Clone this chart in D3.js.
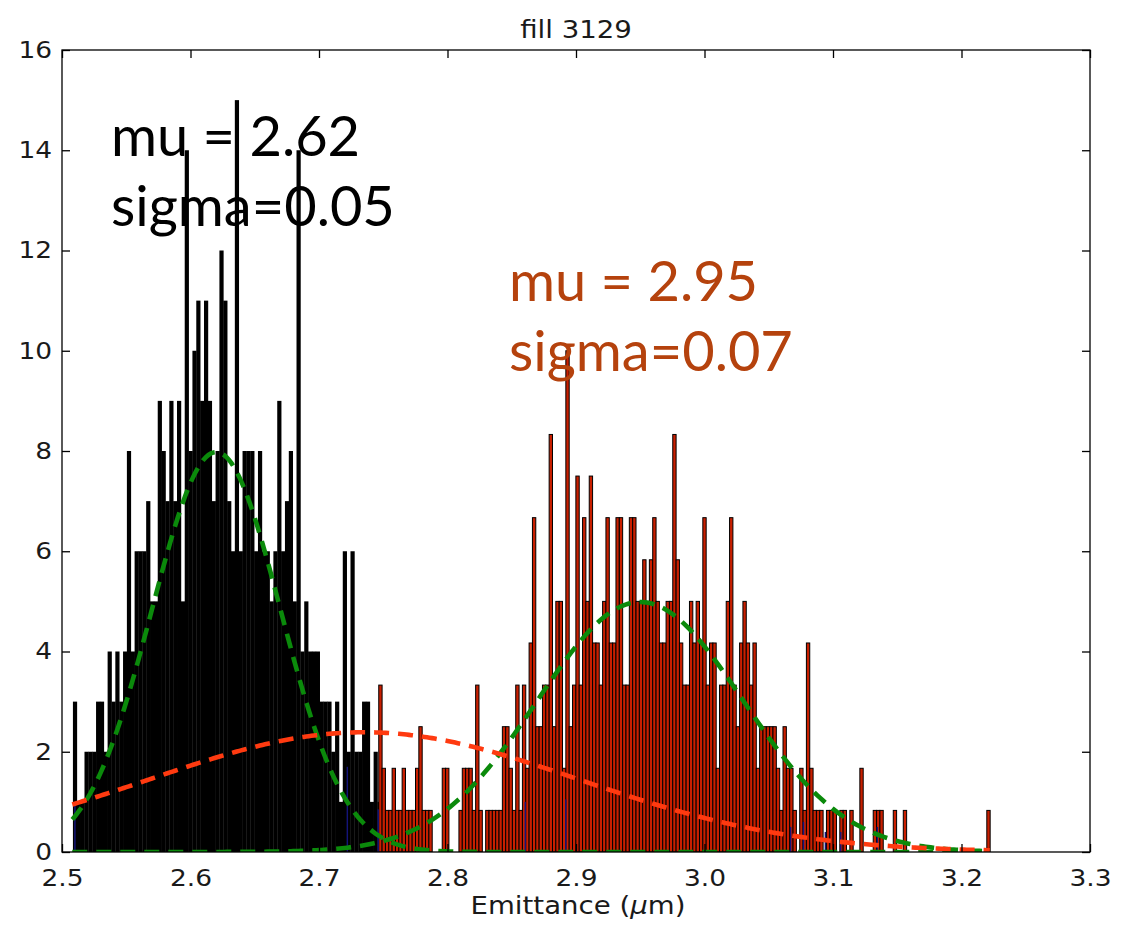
<!DOCTYPE html>
<html>
<head>
<meta charset="utf-8">
<script src="https://cdn.jsdelivr.net/npm/d3@7"></script>
<style>
  body { margin: 0; background: #fff; }
  svg { display: block; }
</style>
</head>
<body>
<svg id="chart" width="1148" height="926"></svg>
<script>
// ---- axis ticks ----
const xTickValues = [2.5, 2.6, 2.7, 2.8, 2.9, 3.0, 3.1, 3.2, 3.3];
const xTickLabels = ["2.5", "2.6", "2.7", "2.8", "2.9", "3.0", "3.1", "3.2", "3.3"];
const yTickValues = [0, 2, 4, 6, 8, 10, 12, 14, 16];

// ---- first emittance population (black histogram, normalised) ----
const blackStart = 2.5085;
const blackWidth = 0.003;
const blackValues = [
  3, 1, 1, 2, 2, 2, 3, 3, 2, 4,
  3, 4, 3, 4, 8, 4, 6, 6, 6, 7,
  5, 5, 9, 8, 7, 9, 7, 9, 5, 14,
  8, 10, 11, 9, 11, 9, 7, 8, 12, 11,
  7, 6, 15, 6, 8, 8, 8, 6, 8, 6,
  6, 5, 6, 9, 6, 7, 8, 5, 14, 4,
  5, 4, 4, 4, 3, 3, 3, 2, 3, 1,
  6, 2, 6, 2, 2, 3, 3, 1, 2, 1
];

// ---- second emittance population (red histogram, normalised) ----
const redStart = 2.7465;
const redWidth = 0.0026;
const redValues = [
  3.33, 1.67, 0.83, 0.83, 1.67, 0.83, 0.83, 1.67, 0.83, 0.83,
  0.83, 1.67, 2.5, 0.83, 0.83, 0.83, 0, 0, 0, 1.67,
  1.67, 0, 0, 0, 0.83, 1.67, 1.67, 1.67, 0.83, 3.33,
  0.83, 0, 0.83, 0.83, 0.83, 0.83, 0.83, 2.5, 2.5, 1.67,
  0.83, 3.33, 0.83, 3.33, 1.67, 4.17, 6.67, 2.5, 2.5, 3.33,
  3.33, 8.33, 2.5, 5, 5, 1.67, 10, 2.5, 3.33, 7.5,
  3.33, 6.67, 5, 7.5, 4.17, 4.17, 3.33, 5, 6.67, 4.17,
  4.17, 6.67, 6.67, 3.33, 3.33, 6.67, 6.67, 5, 5, 5.83,
  5, 5.83, 6.67, 5, 4.17, 4.17, 5, 5, 8.33, 5.83,
  4.17, 3.33, 3.33, 5, 4.17, 5, 4.17, 6.67, 3.33, 4.17,
  4.17, 1.67, 3.33, 3.33, 5, 6.67, 3.33, 2.5, 4.17, 5,
  4.17, 3.33, 4.17, 1.67, 2.5, 2.5, 2.5, 2.5, 2.5, 1.67,
  0.83, 2.5, 1.67, 1.67, 0.83, 0, 1.67, 0.83, 4.17, 1.67,
  0.83, 0.83, 0.83, 0, 0.83, 0.83, 0.83, 0, 0.83, 0.83,
  0, 0.83, 0, 0, 1.67, 0, 0, 0, 0.83, 0.83,
  0.83, 0, 0, 0, 0.83, 0, 0, 0.83, 0, 0,
  0, 0, 0, 0, 0, 0, 0, 0, 0, 0,
  0, 0, 0, 0, 0, 0, 0, 0, 0, 0,
  0, 0, 0.83
];

// ---- combined sample (blue histogram, mostly hidden) ----
const blueBins = [2.5095, 2.7215, 2.7455, 2.8600, 2.8915, 3.0665, 3.0765, 3.0935, 3.1055, 3.1340];
const blueValues = [1.0, 1.7, 0.85, 1.0, 1.05, 0.5, 0.6, 0.4, 0.4, 0.5];
const blueWidth = 0.0011;

// ---- gaussian fits ----
const fitFirst = { mu: 2.62, sigma: 0.05 };
const fitSecond = { mu: 2.95, sigma: 0.08 };
const fitAll = { mu: 2.735, sigma: 0.167 };
const fitRange = [2.508, 3.222];

// ---- annotations ----
const titleText = "fill 3129";
const firstLabel = ["mu = 2.62", "sigma=0.05"];
const secondLabel = ["mu = 2.95", "sigma=0.07"];

// ---- layout ----
const svg = d3.select("#chart");
const plot = { left: 62, right: 1090, top: 50, bottom: 852 };
const textStretch = 1.15;

const x = d3.scaleLinear().domain([2.5, 3.3]).range([plot.left, plot.right]);
const y = d3.scaleLinear().domain([0, 16]).range([plot.bottom, plot.top]);

svg.append("defs").append("clipPath").attr("id", "plotClip")
  .append("rect")
  .attr("x", plot.left).attr("y", plot.top)
  .attr("width", plot.right - plot.left).attr("height", plot.bottom - plot.top);

const area = svg.append("g").attr("clip-path", "url(#plotClip)");

// black histogram
area.append("g")
  .selectAll("rect")
  .data(blackValues.map((v, i) => ({ x0: blackStart + i * blackWidth, x1: blackStart + (i + 1) * blackWidth, v })).filter(d => d.v > 0))
  .join("rect")
  .attr("x", d => x(d.x0))
  .attr("width", d => x(d.x1) - x(d.x0) + 0.35)
  .attr("y", d => y(d.v))
  .attr("height", d => y(0) - y(d.v))
  .attr("fill", "#000");

// red histogram
area.append("g")
  .selectAll("rect")
  .data(redValues.map((v, i) => ({ x0: redStart + i * redWidth, x1: redStart + (i + 1) * redWidth, v })).filter(d => d.v > 0))
  .join("rect")
  .attr("x", d => x(d.x0))
  .attr("width", d => x(d.x1) - x(d.x0))
  .attr("y", d => y(d.v))
  .attr("height", d => y(0) - y(d.v))
  .attr("fill", "#c91f00")
  .attr("stroke", "#000")
  .attr("stroke-width", 1);

// blue histogram slivers
area.append("g")
  .selectAll("rect")
  .data(blueBins.map((b, i) => ({ x0: b, x1: b + blueWidth, v: blueValues[i] })))
  .join("rect")
  .attr("x", d => x(d.x0))
  .attr("width", d => x(d.x1) - x(d.x0))
  .attr("y", d => y(d.v))
  .attr("height", d => y(0) - y(d.v))
  .attr("fill", "#14147a");

// gaussian curves
function normalPdf(v, mu, sigma) {
  return Math.exp(-((v - mu) ** 2) / (2 * sigma * sigma)) / (sigma * Math.sqrt(2 * Math.PI));
}
const grid = d3.range(fitRange[0], fitRange[1] + 1e-9, 0.002);
const line = d3.line().x(d => x(d[0])).y(d => y(d[1]));

function drawFit(fit, color) {
  area.append("path")
    .datum(grid.map(v => [v, normalPdf(v, fit.mu, fit.sigma)]))
    .attr("d", line)
    .attr("fill", "none")
    .attr("stroke", color)
    .attr("stroke-width", 4.6)
    .attr("stroke-dasharray", "15 9");
}
drawFit(fitFirst, "#0b8a0b");
drawFit(fitSecond, "#0b8a0b");
drawFit(fitAll, "#ff3a10");

// axes frame
svg.append("rect")
  .attr("x", plot.left).attr("y", plot.top)
  .attr("width", plot.right - plot.left).attr("height", plot.bottom - plot.top)
  .attr("fill", "none").attr("stroke", "#000").attr("stroke-width", 1.3);

const tickLen = 8;
const bottomAxis = d3.axisBottom(x).tickValues(xTickValues).tickFormat((d, i) => xTickLabels[i]).tickSizeInner(-tickLen).tickSizeOuter(0).tickPadding(18);
const topAxis = d3.axisTop(x).tickValues(xTickValues).tickFormat("").tickSizeInner(-tickLen).tickSizeOuter(0);
const leftAxis = d3.axisLeft(y).tickValues(yTickValues).tickFormat(d3.format("d")).tickSizeInner(-tickLen).tickSizeOuter(0).tickPadding(10);
const rightAxis = d3.axisRight(y).tickValues(yTickValues).tickFormat("").tickSizeInner(-tickLen).tickSizeOuter(0);

function styleAxis(g) {
  g.select(".domain").remove();
  g.selectAll(".tick line").attr("stroke", "#000").attr("stroke-width", 1.3);
  g.selectAll(".tick text")
    .attr("fill", "#1a1a1a")
    .style("font-family", "DejaVu Sans, sans-serif")
    .style("font-size", "23px")
    .attr("transform", `scale(${textStretch},1)`)
    .attr("x", function () { return +d3.select(this).attr("x") / textStretch; });
}
svg.append("g").attr("transform", `translate(0,${plot.bottom})`).call(bottomAxis).call(styleAxis);
svg.append("g").attr("transform", `translate(0,${plot.top})`).call(topAxis).call(styleAxis);
svg.append("g").attr("transform", `translate(${plot.left},0)`).call(leftAxis).call(styleAxis);
svg.append("g").attr("transform", `translate(${plot.right},0)`).call(rightAxis).call(styleAxis);

// title and axis label (slightly widened, like the tick labels)
const cx = (plot.left + plot.right) / 2;
svg.append("text")
  .attr("transform", `translate(${cx},38) scale(${textStretch},1)`)
  .attr("text-anchor", "middle")
  .attr("fill", "#1a1a1a")
  .style("font-family", "DejaVu Sans, sans-serif").style("font-size", "24px")
  .text(titleText);

const xl = svg.append("text")
  .attr("transform", `translate(${cx + 2},914) scale(${textStretch},1)`)
  .attr("text-anchor", "middle")
  .attr("fill", "#1a1a1a")
  .style("font-family", "DejaVu Sans, sans-serif").style("font-size", "24px");
xl.append("tspan").text("Emittance (");
xl.append("tspan").style("font-style", "italic").text("\u03bc");
xl.append("tspan").text("m)");

// fit annotations
function annotate(lines, x0, y0, color) {
  const t = svg.append("text")
    .attr("fill", color)
    .style("font-family", "Lato, sans-serif")
    .style("font-size", "56px");
  lines.forEach((s, i) => {
    t.append("tspan").attr("x", x0).attr("y", y0 + i * 70).text(s);
  });
}
annotate(firstLabel, 111, 156, "#000");
annotate(secondLabel, 509, 301, "#b5420d");
</script>
</body>
</html>
